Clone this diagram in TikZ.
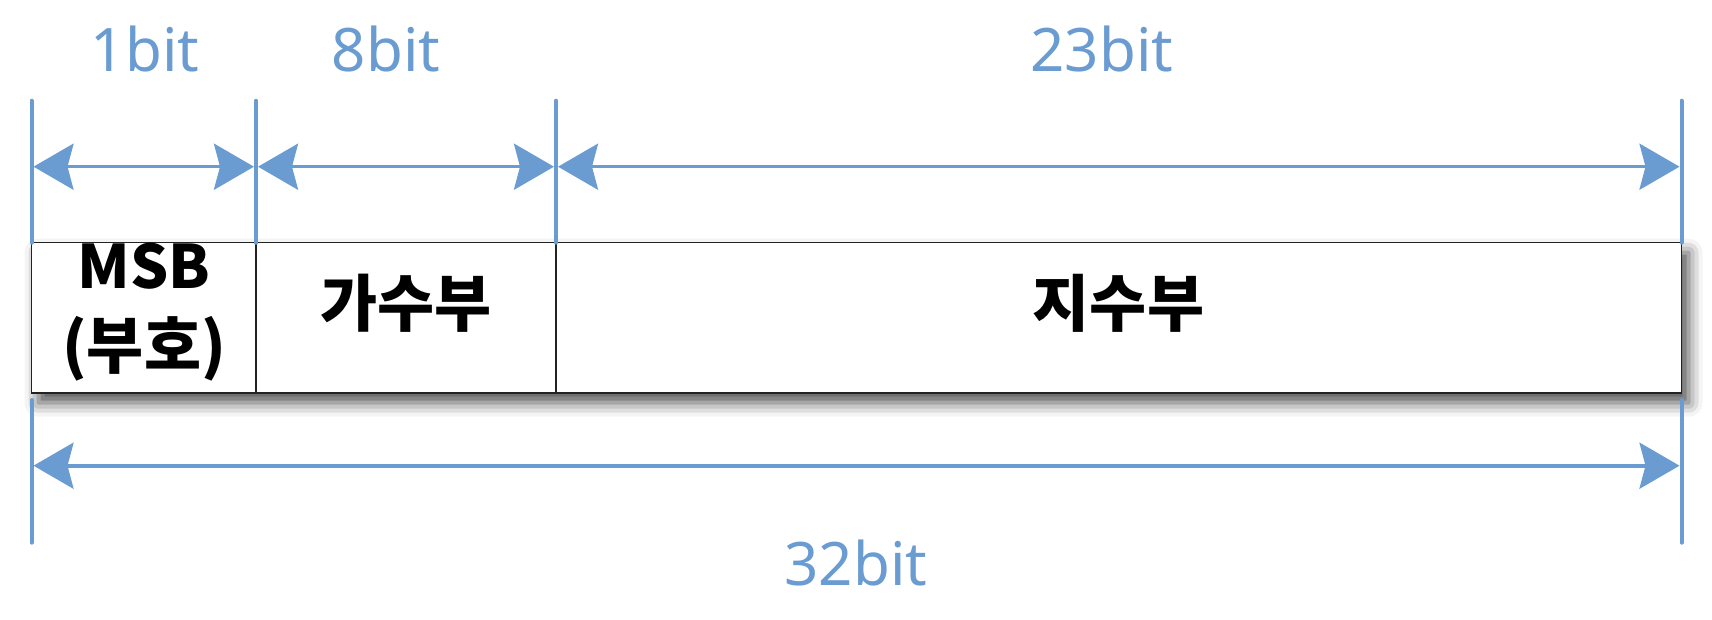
\documentclass[tikz,border=0pt]{standalone}
\usepackage{fontspec}
\setmainfont{Noto Sans}
\newfontfamily\kr{Noto Sans CJK KR}
\usetikzlibrary{arrows.meta,shadows.blur}
\definecolor{dimblue}{RGB}{106,156,210}
\definecolor{boxline}{RGB}{34,34,34}
\tikzset{
  dimline/.style={draw=dimblue, line width=2pt, line cap=round},
  dimarrow/.style={draw=dimblue, line width=1.8pt,
    {Stealth[length=20pt,width=23pt,inset=3pt,color=dimblue]}-{Stealth[length=20pt,width=23pt,inset=3pt,color=dimblue]},
    shorten <=1pt, shorten >=1pt},
  dimlabel/.style={text=dimblue, font=\fontsize{30pt}{34pt}\selectfont, anchor=base, inner sep=0pt},
  cell/.style={draw=boxline, line width=0.8pt, fill=white, inner sep=0pt, outer sep=0pt,
    minimum height=75pt, anchor=north west},
  celltext/.style={font=\kr\bfseries\fontsize{31pt}{36pt}\selectfont, anchor=base, inner sep=0pt},
}
\begin{document}
\begin{tikzpicture}[x=0.5pt,y=-0.5pt]
\useasboundingbox (0,0) rectangle (1712,620);
% shadow frame
\node (frame) [draw=none, fill=white, inner sep=0pt, outer sep=0pt, minimum width=825pt, minimum height=75pt, anchor=north west,
  blur shadow={shadow xshift=3.5pt, shadow yshift=-5pt, shadow blur radius=7pt, shadow opacity=70}] at (31.5,242.7) {};
% cells
\node (cell1) [cell, minimum width=112.25pt] at (31.5,242.7) {};
\node (cell2) [cell, minimum width=150pt] at (256,242.7) {};
\node (cell3) [cell, minimum width=562.75pt] at (556,242.7) {};
% cell texts
\node (msb) [celltext, font=\kr\bfseries\fontsize{30pt}{36pt}\selectfont] at (144,288) {MSB};
\node (sign) [celltext] at (144,368) {(부호)};
\node (mant) [celltext] at (406,326) {가수부};
\node (expo) [celltext] at (1118.5,326) {지수부};
% top dimension lines
\coordinate (t0) at (31.5,100.7);
\coordinate (t1) at (256,100.7);
\coordinate (t2) at (556,100.7);
\coordinate (t3) at (1681.5,100.7);
\draw[dimline] (t0) -- (cell1.north west);
\draw[dimline] (t1) -- (cell2.north west);
\draw[dimline] (t2) -- (cell3.north west);
\draw[dimline] (t3) -- (cell3.north east);
\coordinate (a0) at (31.5,166.7);
\coordinate (a1) at (256,166.7);
\coordinate (a2) at (556,166.7);
\coordinate (a3) at (1681.5,166.7);
\draw[dimarrow] (a0) -- (a1);
\draw[dimarrow] (a1) -- (a2);
\draw[dimarrow] (a2) -- (a3);
% bottom dimension
\coordinate (b0) at (31.5,400);
\coordinate (b0e) at (31.5,542.7);
\coordinate (b1) at (1681.5,400);
\coordinate (b1e) at (1681.5,542.7);
\draw[dimline] (b0) -- (b0e);
\draw[dimline] (b1) -- (b1e);
\coordinate (c0) at (31.5,465.7);
\coordinate (c1) at (1681.5,465.7);
\draw[dimarrow] (c0) -- (c1);
% labels
\node (l1) [dimlabel] at (145,71.6) {1bit};
\node (l8) [dimlabel] at (386,71.6) {8bit};
\node (l23) [dimlabel] at (1102,71.6) {23bit};
\node (l32) [dimlabel] at (856,585) {32bit};
\end{tikzpicture}
\end{document}
